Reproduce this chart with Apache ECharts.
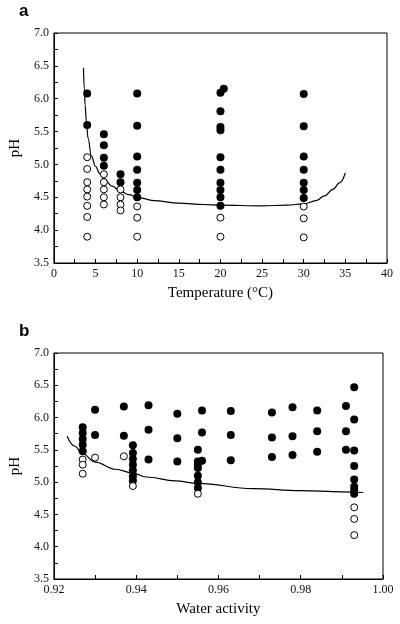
<!DOCTYPE html>
<html><head><meta charset="utf-8">
<script src="https://cdn.jsdelivr.net/npm/echarts@6/dist/echarts.min.js"></script>
<style>html,body{margin:0;padding:0;background:#fff}#c{width:400px;height:624px}</style>
</head><body><div id="c"></div>
<script>
// Panel a: Temperature vs pH
const tempGrowth = [[4,6.08],[4,5.60],[6,5.46],[6,5.29],[6,5.10],[6,4.98],[8,4.85],[8,4.73],
  [10,6.08],[10,5.59],[10,5.12],[10,4.92],[10,4.72],[10,4.61],[10,4.50],
  [20,6.09],[20.4,6.15],[20,5.81],[20,5.57],[20,5.52],[20,5.11],[20,4.92],[20,4.72],[20,4.61],[20,4.50],[20,4.37],
  [30,6.07],[30,5.58],[30,5.12],[30,4.92],[30,4.72],[30,4.61],[30,4.49]];
const tempNoGrowth = [[4,5.11],[4,4.93],[4,4.73],[4,4.62],[4,4.51],[4,4.37],[4,4.20],[4,3.90],
  [6,4.85],[6,4.73],[6,4.62],[6,4.50],[6,4.39],[8,4.62],[8,4.50],[8,4.39],[8,4.30],
  [10,4.36],[10,4.19],[10,3.90],[20,4.19],[20,3.90],[30,4.36],[30,4.18],[30,3.89]];
const tempBoundary = [[3.55,6.47],[3.65,6.15],[3.75,5.9],[3.9,5.65],[4.1,5.4],[4.5,5.13],[5,4.97],[5.5,4.86],[6,4.78],[7,4.67],[8,4.59],[9,4.54],[10,4.50],[12,4.45],[15,4.41],[18,4.39],[20,4.38],[25,4.37],[28,4.38],[30,4.40],[31.5,4.45],[32.5,4.52],[33.5,4.62],[34.3,4.72],[35,4.87]];

// Panel b: Water activity vs pH
const awGrowth = [[0.927,5.85],[0.927,5.76],[0.927,5.67],[0.927,5.58],[0.927,5.48],
  [0.930,6.12],[0.930,5.73],[0.937,6.17],[0.937,5.72],
  [0.9392,5.57],[0.9392,5.45],[0.9392,5.36],[0.9392,5.27],[0.9392,5.18],[0.9392,5.09],[0.9392,5.02],
  [0.943,6.19],[0.943,5.81],[0.943,5.35],[0.950,6.06],[0.950,5.68],[0.950,5.32],
  [0.955,5.50],[0.955,5.32],[0.955,5.27],[0.955,5.22],[0.955,5.10],[0.955,5.00],[0.955,4.91],
  [0.956,6.11],[0.956,5.77],[0.956,5.33],[0.963,6.10],[0.963,5.73],[0.963,5.34],
  [0.973,6.08],[0.973,5.69],[0.973,5.39],[0.978,6.16],[0.978,5.71],[0.978,5.42],
  [0.984,6.11],[0.984,5.79],[0.984,5.47],[0.991,6.18],[0.991,5.79],[0.991,5.50],
  [0.993,6.47],[0.993,5.97],[0.993,5.49],[0.993,5.25],[0.993,5.04],[0.993,4.93],[0.993,4.87],[0.993,4.82]];
const awNoGrowth = [[0.927,5.35],[0.927,5.27],[0.927,5.13],[0.930,5.38],[0.937,5.40],[0.9392,4.94],[0.955,4.82],
  [0.993,4.61],[0.993,4.43],[0.993,4.18]];
const awBoundary = [[0.9232,5.71],[0.925,5.56],[0.927,5.44],[0.930,5.31],[0.935,5.20],[0.9392,5.14],[0.9424,5.08],[0.9495,5.02],[0.955,4.98],[0.9684,4.90],[0.98,4.87],[0.99,4.85],[0.9952,4.84]];

const xTitles = ['Temperature (°C)', 'Water activity'];
const yTitle = 'pH';
const panelLabels = ['a', 'b'];

const serif = 'Liberation Serif';
const chart = echarts.init(document.getElementById('c'));
function xAx(i, min, max, interval, dec) {
  return { gridIndex: i, type: 'value', min, max, interval,
    name: xTitles[i], nameLocation: 'middle', nameGap: 23,
    nameTextStyle: { fontFamily: serif, fontSize: 15, color: '#000' },
    axisLine: { lineStyle: { color: '#000', width: 1 } },
    axisTick: { inside: true, length: 4, lineStyle: { color: '#000' } },
    minorTick: { show: true, splitNumber: 2, length: 4, lineStyle: { color: '#000' } },
    splitLine: { show: false },
    axisLabel: { fontFamily: serif, fontSize: 12, color: '#111', margin: 5,
      formatter: v => dec ? v.toFixed(dec) : String(v) } };
}
function yAx(i) {
  return { gridIndex: i, type: 'value', min: 3.5, max: 7.0, interval: 0.5,
    name: yTitle, nameLocation: 'middle', nameGap: 27, nameRotate: 90,
    nameTextStyle: { fontFamily: serif, fontSize: 15, color: '#000' },
    axisLine: { lineStyle: { color: '#000', width: 1 } },
    axisTick: { inside: true, length: 4, lineStyle: { color: '#000' } },
    minorTick: { show: true, splitNumber: 2, length: 4, lineStyle: { color: '#000' } },
    splitLine: { show: false },
    axisLabel: { fontFamily: serif, fontSize: 12, color: '#111', margin: 5,
      formatter: v => v.toFixed(1) } };
}
const filled = { type: 'scatter', symbol: 'circle', symbolSize: 8, itemStyle: { color: '#000', opacity: 1 }, z: 3 };
const open = { type: 'scatter', symbol: 'circle', symbolSize: 7, itemStyle: { color: '#fff', borderColor: '#000', borderWidth: 1, opacity: 1 }, z: 3 };
const line = { type: 'line', showSymbol: false, smooth: 0.4, smoothMonotone: 'x', lineStyle: { color: '#000', width: 1.2 }, z: 2 };

chart.setOption({
  animation: false,
  title: [
    { text: panelLabels[0], left: 14, top: -2, textStyle: { fontFamily: 'Liberation Sans', fontWeight: 'bold', fontSize: 17, color: '#000' } },
    { text: panelLabels[1], left: 14, top: 318, textStyle: { fontFamily: 'Liberation Sans', fontWeight: 'bold', fontSize: 17, color: '#000' } }
  ],
  grid: [
    { left: 45, top: 33, width: 342, height: 230, show: true, borderColor: '#000', borderWidth: 1 },
    { left: 45, top: 353, width: 338, height: 226, show: true, borderColor: '#000', borderWidth: 1 }
  ],
  xAxis: [xAx(0, 0, 40, 5, 0), xAx(1, 0.92, 1.00, 0.02, 2)],
  yAxis: [yAx(0), yAx(1)],
  series: [
    Object.assign({}, line, { xAxisIndex: 0, yAxisIndex: 0, data: tempBoundary }),
    Object.assign({}, filled, { xAxisIndex: 0, yAxisIndex: 0, data: tempGrowth }),
    Object.assign({}, open, { xAxisIndex: 0, yAxisIndex: 0, data: tempNoGrowth }),
    Object.assign({}, line, { xAxisIndex: 1, yAxisIndex: 1, data: awBoundary }),
    Object.assign({}, filled, { xAxisIndex: 1, yAxisIndex: 1, data: awGrowth }),
    Object.assign({}, open, { xAxisIndex: 1, yAxisIndex: 1, data: awNoGrowth })
  ]
});
</script></body></html>
